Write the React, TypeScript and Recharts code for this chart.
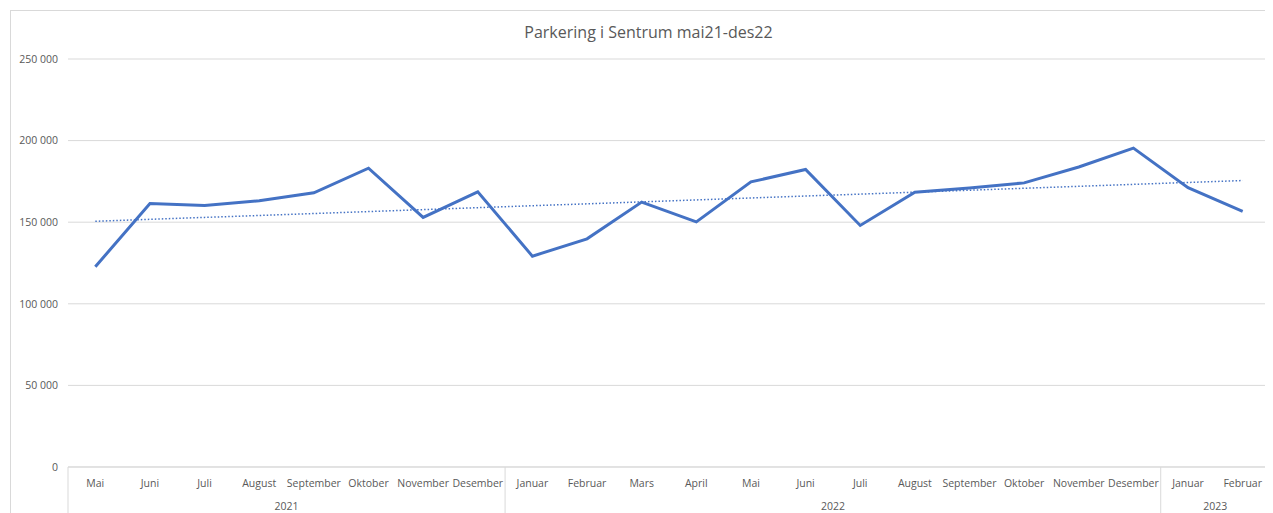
import { LineChart, Line, XAxis, YAxis, CartesianGrid } from "recharts";

const months = [
  "Mai", "Juni", "Juli", "August", "September", "Oktober", "November", "Desember",
  "Januar", "Februar", "Mars", "April", "Mai", "Juni", "Juli", "August",
  "September", "Oktober", "November", "Desember", "Januar", "Februar",
];

const parkering = [
  122700, 161500, 160200, 163100, 168000, 183100, 152900, 168600,
  129200, 139800, 162300, 150200, 174700, 182300, 148000, 168400,
  171000, 174100, 183800, 195400, 171200, 156700,
];

const years = ["2021", "2022", "2023"];
const yearSpans = [8, 12, 2];

const yTicks = [0, 50000, 100000, 150000, 200000, 250000];

// linear trend line (least squares), like Excel's trendline
const n = parkering.length;
const meanX = (n - 1) / 2;
const meanY = parkering.reduce((a, b) => a + b, 0) / n;
let sxy = 0;
let sxx = 0;
parkering.forEach((v, i) => {
  sxy += (i - meanX) * (v - meanY);
  sxx += (i - meanX) * (i - meanX);
});
const slope = sxy / sxx;

const data = parkering.map((v, i) => ({
  key: `m${i}`,
  value: v,
  trend: meanY + slope * (i - meanX),
}));

const W = 1265;
const H = 505;
const M = { top: 51, right: 3, left: 0, bottom: 0 };
const Y_W = 60;
const PLOT_BOTTOM = 459;
const band = (W - M.left - M.right - Y_W) / months.length;

const FONT = "'Open Sans', sans-serif";
const TEXT = "#595959";
const GRID = "#d9d9d9";
const BLUE = "#4472C4";

const groupStarts: number[] = [];
yearSpans.reduce((acc, s) => {
  groupStarts.push(acc);
  return acc + s;
}, 0);

function MonthTick(props: any) {
  const { x, index } = props;
  const g = groupStarts.indexOf(index);
  const last = index === months.length - 1;
  return (
    <g>
      <text x={x} y={PLOT_BOTTOM + 20} textAnchor="middle" fill={TEXT} fontSize={10.5} fontFamily={FONT}>
        {months[index]}
      </text>
      {g >= 0 && (
        <>
          <line x1={x - band / 2} x2={x - band / 2} y1={PLOT_BOTTOM} y2={H} stroke={GRID} />
          <text
            x={x + ((yearSpans[g] - 1) / 2) * band}
            y={PLOT_BOTTOM + 43}
            textAnchor="middle"
            fill={TEXT}
            fontSize={10.5}
            fontFamily={FONT}
          >
            {years[g]}
          </text>
        </>
      )}
      {last && <line x1={x + band / 2} x2={x + band / 2} y1={PLOT_BOTTOM} y2={H} stroke={GRID} />}
    </g>
  );
}

const fmt = (v: number) => String(v).replace(/\B(?=(\d{3})+(?!\d))/g, " ");

export default function App() {
  return (
    <div style={{ position: "relative", width: W, height: H, overflow: "hidden" }}>
      <div
        style={{
          position: "absolute",
          left: 2,
          top: 2,
          width: W + 20,
          height: H + 20,
          borderLeft: `1px solid ${GRID}`,
          borderTop: `1px solid ${GRID}`,
          boxSizing: "border-box",
        }}
      />
      <div
        style={{
          position: "absolute",
          left: 0,
          width: W + 16,
          top: 13,
          textAlign: "center",
          fontFamily: FONT,
          fontSize: 16,
          color: TEXT,
        }}
      >
        Parkering i Sentrum mai21-des22
      </div>
      <LineChart width={W} height={H} data={data} margin={M} style={{ position: "absolute", left: 0, top: 0 }}>
        <CartesianGrid vertical={false} stroke={GRID} />
        <XAxis
          dataKey="key"
          interval={0}
          height={H - PLOT_BOTTOM}
          padding={{ left: band / 2, right: band / 2 }}
          axisLine={{ stroke: GRID }}
          tickLine={false}
          tick={<MonthTick />}
        />
        <YAxis
          width={Y_W}
          domain={[0, 250000]}
          ticks={yTicks}
          tickFormatter={fmt}
          axisLine={false}
          tickLine={false}
          tickMargin={4}
          tick={{ fill: TEXT, fontSize: 10.5, fontFamily: FONT }}
        />
        <Line
          type="linear"
          dataKey="value"
          stroke={BLUE}
          strokeWidth={3}
          dot={false}
          activeDot={false}
          isAnimationActive={false}
        />
        <Line
          type="linear"
          dataKey="trend"
          stroke={BLUE}
          strokeWidth={1.5}
          strokeDasharray="1.5 2"
          dot={false}
          activeDot={false}
          isAnimationActive={false}
        />
      </LineChart>
    </div>
  );
}
